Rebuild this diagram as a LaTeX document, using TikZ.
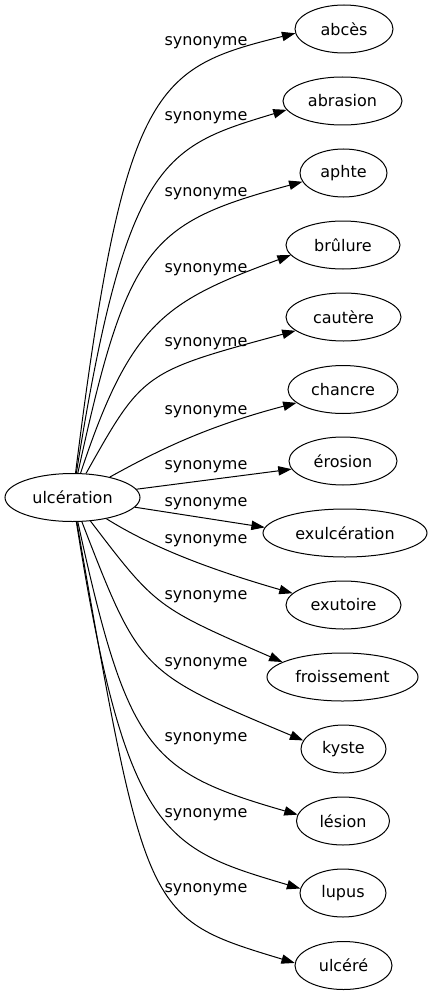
\documentclass[tikz,border=0pt]{standalone}
\usepackage{fontspec}
\setmainfont{DejaVu Sans}
\usetikzlibrary{shapes.geometric,arrows.meta}
\begin{document}
\begin{tikzpicture}[x=0.75pt,y=-0.75pt,
  every node/.style={font=\fontsize{12}{14}\selectfont},
  word/.style={ellipse, draw, line width=0.75pt, inner sep=0pt, minimum height=36pt},
  lbl/.style={anchor=base, inner sep=0pt},
  syn/.style={draw, line width=0.75pt, -{Triangle[length=10pt,width=7pt]}}]
\useasboundingbox (0,0) rectangle (428,995);
% nodes
\node[word, minimum width=101.25pt] (u) at (72.5,497.5) {ulcération};
\node[word, minimum width=73.5pt] (t1) at (344,29) {abcès};
\node[word, minimum width=89.25pt] (t2) at (342.5,101) {abrasion};
\node[word, minimum width=65.25pt] (t3) at (343.5,173) {aphte};
\node[word, minimum width=85.5pt] (t4) at (343,245) {brûlure};
\node[word, minimum width=86.25pt] (t5) at (343.5,317) {cautère};
\node[word, minimum width=82.5pt] (t6) at (343,389.5) {chancre};
\node[word, minimum width=81pt] (t7) at (343,461) {érosion};
\node[word, minimum width=123pt] (t8) at (345,533) {exulcération};
\node[word, minimum width=86.25pt] (t9) at (343.5,605) {exutoire};
\node[word, minimum width=113.25pt] (t10) at (342.5,677) {froissement};
\node[word, minimum width=63.75pt] (t11) at (343.5,749) {kyste};
\node[word, minimum width=69.75pt] (t12) at (343,821) {lésion};
\node[word, minimum width=64.5pt] (t13) at (343,893) {lupus};
\node[word, minimum width=72.75pt] (t14) at (343.5,965.5) {ulcéré};
% edges
\draw[syn] (u) .. controls (124,84) and (155,68) .. (t1.185);
\draw[syn] (u) .. controls (126.3,157.6) and (164.9,146.7) .. (t2.189);
\draw[syn] (u) .. controls (127.8,243.9) and (149.2,223.2) .. (t3.192);
\draw[syn] (u) .. controls (130.8,321.5) and (165,301.5) .. (t4.191);
\draw[syn] (u) .. controls (143,372) .. (t5.196);
\draw[syn] (u) .. controls (150,455) and (200,428) .. (t6.196);
\draw[syn] (u) -- (t7.189);
\draw[syn] (u) -- (t8.176);
\draw[syn] (u) .. controls (150,546) and (205,568) .. (t9.167);
\draw[syn] (u) .. controls (156,607) .. (t10.166);
\draw[syn] (u) .. controls (140,672) .. (t11.168);
\draw[syn] (u) .. controls (127.8,751.1) and (149.2,771.8) .. (t12.172);
\draw[syn] (u) .. controls (126.3,837.4) and (164.9,848.3) .. (t13.174);
\draw[syn] (u) .. controls (146,918) .. (t14.177);
% labels
\node[lbl] (l1) at (206,46) {synonyme};
\node[lbl] (l2) at (206,121) {synonyme};
\node[lbl] (l3) at (206,196) {synonyme};
\node[lbl] (l4) at (206,272.4) {synonyme};
\node[lbl] (l5) at (206,346) {synonyme};
\node[lbl] (l6) at (206,414.4) {synonyme};
\node[lbl] (l7) at (206,469.4) {synonyme};
\node[lbl] (l8) at (206,506.4) {synonyme};
\node[lbl] (l9) at (206,543.4) {synonyme};
\node[lbl] (l10) at (206,599.4) {synonyme};
\node[lbl] (l11) at (206,666.4) {synonyme};
\node[lbl] (l12) at (206,741.4) {synonyme};
\node[lbl] (l13) at (206,817.4) {synonyme};
\node[lbl] (l14) at (206,892.4) {synonyme};
\end{tikzpicture}
\end{document}
